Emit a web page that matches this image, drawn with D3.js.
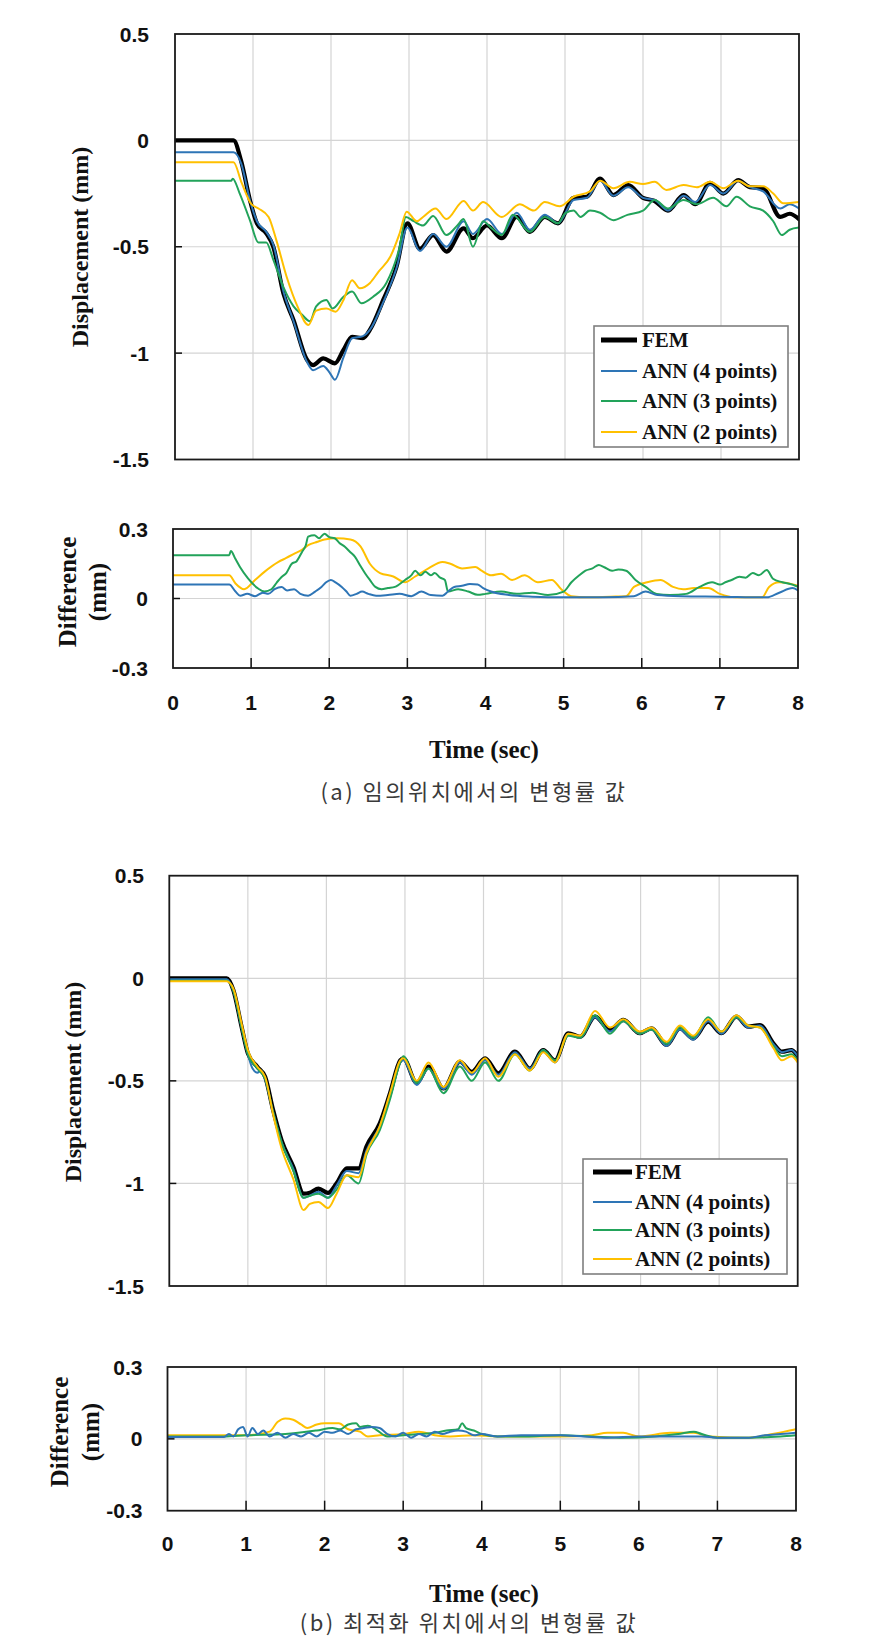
<!DOCTYPE html>
<html><head><meta charset="utf-8">
<script src="https://cdn.jsdelivr.net/npm/d3@7"></script>
<style>body{margin:0;background:#fff}svg{display:block}</style>
</head><body>
<svg id="chart" width="891" height="1649"></svg>
<script>
// ---------- DATA ----------
const timeTicks = [0,1,2,3,4,5,6,7,8];
const dispTicks = [0.5, 0, -0.5, -1, -1.5];
const dispTickLabels = ["0.5","0","-0.5","-1","-1.5"];
const diffTicks = [0.3, 0, -0.3];
const diffTickLabels = ["0.3","0","-0.3"];
const seriesNames = ["FEM","ANN (4 points)","ANN (3 points)","ANN (2 points)"];
const seriesColors = ["#000000","#2e75b6","#22a35a","#ffc000"];
const captions = ["(a) 임의위치에서의 변형률 값","(b) 최적화 위치에서의 변형률 값"];
const yTitleTop = "Displacement (mm)";
const yTitleDiff = ["Difference","(mm)"];
const xTitle = "Time (sec)";

// (a) arbitrary positions : [time, displacement]
const femA = [[0,0],[0.75,0],[0.85,-0.10],[0.96,-0.28],[1.05,-0.39],[1.17,-0.437],[1.26,-0.50],[1.39,-0.72],[1.52,-0.845],[1.69,-1.03],[1.77,-1.056],[1.9,-1.025],[2.05,-1.048],[2.16,-0.985],[2.27,-0.923],[2.41,-0.93],[2.5,-0.89],[2.67,-0.75],[2.84,-0.594],[2.98,-0.39],[3.14,-0.51],[3.31,-0.445],[3.48,-0.523],[3.70,-0.414],[3.82,-0.46],[4.0,-0.40],[4.19,-0.46],[4.38,-0.36],[4.55,-0.43],[4.74,-0.36],[4.91,-0.39],[5.11,-0.27],[5.28,-0.265],[5.45,-0.18],[5.62,-0.257],[5.81,-0.21],[6.0,-0.27],[6.15,-0.285],[6.32,-0.33],[6.52,-0.257],[6.67,-0.30],[6.86,-0.20],[7.03,-0.25],[7.22,-0.187],[7.37,-0.22],[7.54,-0.225],[7.76,-0.36],[7.88,-0.345],[8.0,-0.37]];
const ann4A = [[0,-0.056],[0.75,-0.056],[0.85,-0.11],[0.96,-0.28],[1.05,-0.38],[1.17,-0.43],[1.26,-0.49],[1.39,-0.71],[1.52,-0.85],[1.69,-1.04],[1.77,-1.08],[1.9,-1.06],[1.98,-1.09],[2.05,-1.125],[2.16,-1.02],[2.27,-0.93],[2.41,-0.92],[2.5,-0.89],[2.67,-0.76],[2.84,-0.6],[2.98,-0.41],[3.14,-0.52],[3.31,-0.44],[3.48,-0.5],[3.70,-0.38],[3.82,-0.44],[4.0,-0.37],[4.19,-0.44],[4.38,-0.34],[4.55,-0.42],[4.74,-0.35],[4.91,-0.39],[5.11,-0.28],[5.28,-0.27],[5.45,-0.19],[5.62,-0.26],[5.81,-0.22],[6.0,-0.27],[6.15,-0.28],[6.32,-0.33],[6.52,-0.26],[6.67,-0.29],[6.86,-0.21],[7.03,-0.25],[7.22,-0.19],[7.37,-0.22],[7.54,-0.24],[7.76,-0.32],[7.88,-0.30],[8.0,-0.32]];
const ann3A = [[0,-0.19],[0.72,-0.19],[0.74,-0.18],[0.83,-0.25],[0.96,-0.375],[1.07,-0.48],[1.17,-0.48],[1.26,-0.56],[1.39,-0.69],[1.52,-0.78],[1.63,-0.82],[1.73,-0.85],[1.81,-0.78],[1.94,-0.75],[2.02,-0.79],[2.16,-0.735],[2.27,-0.71],[2.39,-0.766],[2.54,-0.735],[2.71,-0.67],[2.88,-0.5],[2.96,-0.36],[3.06,-0.38],[3.18,-0.40],[3.31,-0.355],[3.48,-0.445],[3.62,-0.40],[3.70,-0.37],[3.82,-0.50],[3.95,-0.38],[4.05,-0.41],[4.19,-0.445],[4.33,-0.35],[4.55,-0.43],[4.74,-0.36],[4.91,-0.39],[5.0,-0.343],[5.11,-0.33],[5.2,-0.36],[5.32,-0.33],[5.45,-0.34],[5.62,-0.375],[5.8,-0.35],[6.0,-0.33],[6.15,-0.28],[6.32,-0.32],[6.52,-0.28],[6.69,-0.30],[6.9,-0.27],[7.07,-0.31],[7.2,-0.265],[7.37,-0.31],[7.54,-0.33],[7.67,-0.38],[7.78,-0.445],[7.88,-0.42],[8.0,-0.41]];
const ann2A = [[0,-0.103],[0.75,-0.103],[0.855,-0.2],[0.98,-0.30],[1.07,-0.32],[1.2,-0.36],[1.30,-0.47],[1.43,-0.64],[1.57,-0.78],[1.71,-0.868],[1.81,-0.80],[1.94,-0.79],[2.06,-0.805],[2.16,-0.75],[2.27,-0.657],[2.37,-0.695],[2.5,-0.67],[2.61,-0.617],[2.76,-0.547],[2.88,-0.437],[2.97,-0.335],[3.1,-0.38],[3.18,-0.36],[3.34,-0.32],[3.48,-0.37],[3.7,-0.285],[3.82,-0.33],[3.95,-0.29],[4.19,-0.36],[4.42,-0.30],[4.6,-0.33],[4.74,-0.29],[4.93,-0.31],[5.11,-0.265],[5.32,-0.24],[5.45,-0.19],[5.62,-0.225],[5.83,-0.195],[6.0,-0.205],[6.15,-0.195],[6.3,-0.233],[6.52,-0.21],[6.69,-0.22],[6.86,-0.195],[7.03,-0.225],[7.22,-0.19],[7.37,-0.216],[7.54,-0.216],[7.67,-0.25],[7.8,-0.296],[8.0,-0.29]];

// (a) differences : [time, |ANN - FEM|]
const diff4A = [[0,0.06],[0.72,0.06],[0.8,0.03],[0.86,0.012],[0.95,0.02],[1.05,0.01],[1.15,0.025],[1.22,0.02],[1.3,0.04],[1.39,0.05],[1.46,0.035],[1.55,0.04],[1.63,0.02],[1.73,0.012],[1.82,0.03],[1.9,0.05],[1.96,0.07],[2.02,0.08],[2.08,0.07],[2.16,0.05],[2.22,0.03],[2.27,0.012],[2.35,0.02],[2.42,0.03],[2.5,0.02],[2.6,0.012],[2.75,0.015],[2.9,0.02],[3.05,0.01],[3.18,0.03],[3.3,0.015],[3.45,0.012],[3.52,0.03],[3.6,0.05],[3.7,0.055],[3.8,0.063],[3.9,0.06],[3.97,0.045],[4.07,0.03],[4.3,0.015],[4.6,0.008],[5.0,0.005],[5.5,0.005],[5.9,0.01],[6.05,0.03],[6.2,0.015],[6.5,0.01],[7.0,0.008],[7.6,0.005],[7.76,0.025],[7.93,0.045],[8.0,0.035]];
const diff3A = [[0,0.187],[0.72,0.187],[0.74,0.205],[0.8,0.17],[0.855,0.137],[0.96,0.087],[1.09,0.043],[1.17,0.03],[1.26,0.04],[1.33,0.07],[1.39,0.093],[1.45,0.11],[1.52,0.15],[1.58,0.16],[1.65,0.2],[1.7,0.23],[1.73,0.267],[1.81,0.273],[1.87,0.26],[1.94,0.28],[2.0,0.265],[2.07,0.26],[2.13,0.24],[2.2,0.223],[2.27,0.2],[2.33,0.18],[2.4,0.14],[2.46,0.108],[2.52,0.08],[2.59,0.05],[2.67,0.04],[2.75,0.045],[2.84,0.05],[2.97,0.08],[3.05,0.1],[3.1,0.12],[3.17,0.1],[3.23,0.115],[3.3,0.1],[3.35,0.11],[3.42,0.09],[3.48,0.08],[3.52,0.03],[3.65,0.04],[3.78,0.03],[3.9,0.016],[4.0,0.02],[4.2,0.03],[4.4,0.02],[4.6,0.025],[4.8,0.015],[5.0,0.03],[5.1,0.07],[5.2,0.1],[5.28,0.12],[5.37,0.13],[5.45,0.145],[5.52,0.135],[5.62,0.12],[5.7,0.125],[5.8,0.12],[5.92,0.08],[6.05,0.05],[6.19,0.02],[6.36,0.015],[6.57,0.02],[6.74,0.05],[6.9,0.07],[7.0,0.06],[7.07,0.07],[7.15,0.08],[7.25,0.094],[7.33,0.09],[7.42,0.11],[7.5,0.1],[7.6,0.123],[7.68,0.085],[7.8,0.07],[7.93,0.06],[8.0,0.05]];
const diff2A = [[0,0.10],[0.72,0.10],[0.8,0.065],[0.91,0.04],[1.05,0.08],[1.17,0.115],[1.35,0.158],[1.45,0.175],[1.56,0.195],[1.65,0.21],[1.73,0.23],[1.85,0.245],[1.94,0.255],[2.1,0.26],[2.27,0.255],[2.4,0.225],[2.52,0.15],[2.65,0.11],[2.82,0.095],[2.97,0.07],[3.1,0.095],[3.27,0.13],[3.45,0.158],[3.55,0.15],[3.7,0.13],[3.87,0.136],[3.95,0.12],[4.07,0.1],[4.2,0.107],[4.34,0.08],[4.5,0.1],[4.67,0.07],[4.85,0.08],[4.97,0.04],[5.1,0.01],[5.3,0.005],[5.6,0.008],[5.8,0.01],[5.9,0.05],[6.07,0.07],[6.24,0.08],[6.4,0.05],[6.53,0.04],[6.67,0.045],[6.85,0.045],[7.0,0.02],[7.2,0.005],[7.54,0.005],[7.63,0.05],[7.76,0.07],[8.0,0.055]];

// (b) optimized positions : [time, displacement]
const femB = [[0,0],[0.73,0],[0.815,-0.057],[0.92,-0.236],[1.0,-0.366],[1.12,-0.431],[1.22,-0.48],[1.32,-0.64],[1.43,-0.79],[1.58,-0.92],[1.71,-1.05],[1.79,-1.045],[1.9,-1.025],[2.02,-1.046],[2.13,-1.0],[2.26,-0.927],[2.41,-0.927],[2.51,-0.82],[2.68,-0.707],[2.81,-0.56],[2.94,-0.40],[2.98,-0.39],[3.15,-0.51],[3.30,-0.43],[3.49,-0.537],[3.7,-0.407],[3.85,-0.456],[4.02,-0.39],[4.19,-0.463],[4.4,-0.358],[4.59,-0.44],[4.76,-0.35],[4.91,-0.40],[5.08,-0.268],[5.23,-0.285],[5.42,-0.187],[5.61,-0.252],[5.78,-0.203],[5.99,-0.268],[6.14,-0.244],[6.33,-0.325],[6.5,-0.244],[6.67,-0.293],[6.86,-0.212],[7.03,-0.268],[7.22,-0.187],[7.37,-0.236],[7.52,-0.228],[7.69,-0.317],[7.8,-0.358],[7.92,-0.35],[8.0,-0.38]];
const ann4B = [[0,-0.005],[0.73,-0.005],[0.815,-0.06],[0.92,-0.24],[1.0,-0.37],[1.06,-0.44],[1.12,-0.46],[1.17,-0.45],[1.22,-0.49],[1.32,-0.65],[1.43,-0.80],[1.58,-0.93],[1.71,-1.07],[1.79,-1.06],[1.9,-1.04],[2.02,-1.07],[2.13,-1.01],[2.26,-0.94],[2.41,-0.95],[2.51,-0.84],[2.68,-0.72],[2.81,-0.57],[2.94,-0.41],[2.98,-0.40],[3.15,-0.52],[3.30,-0.44],[3.49,-0.54],[3.7,-0.41],[3.85,-0.47],[4.02,-0.40],[4.19,-0.47],[4.4,-0.36],[4.59,-0.44],[4.76,-0.35],[4.91,-0.41],[5.08,-0.27],[5.23,-0.29],[5.42,-0.19],[5.61,-0.26],[5.78,-0.21],[5.99,-0.27],[6.14,-0.25],[6.33,-0.33],[6.5,-0.25],[6.67,-0.30],[6.86,-0.21],[7.03,-0.27],[7.22,-0.19],[7.37,-0.24],[7.52,-0.23],[7.69,-0.32],[7.8,-0.36],[7.92,-0.35],[8.0,-0.38]];
const ann3B = [[0,-0.012],[0.73,-0.012],[0.815,-0.06],[0.92,-0.24],[1.0,-0.37],[1.12,-0.44],[1.22,-0.49],[1.32,-0.65],[1.43,-0.80],[1.58,-0.94],[1.71,-1.07],[1.79,-1.06],[1.9,-1.05],[2.02,-1.07],[2.13,-1.03],[2.26,-0.96],[2.41,-1.0],[2.51,-0.86],[2.68,-0.74],[2.81,-0.59],[2.94,-0.41],[2.98,-0.38],[3.15,-0.51],[3.30,-0.44],[3.49,-0.56],[3.7,-0.43],[3.85,-0.50],[4.02,-0.41],[4.19,-0.50],[4.4,-0.37],[4.59,-0.45],[4.76,-0.35],[4.91,-0.40],[5.08,-0.28],[5.23,-0.29],[5.42,-0.18],[5.61,-0.27],[5.78,-0.21],[5.99,-0.27],[6.14,-0.25],[6.33,-0.32],[6.5,-0.24],[6.67,-0.29],[6.86,-0.19],[7.03,-0.26],[7.22,-0.19],[7.37,-0.23],[7.52,-0.24],[7.69,-0.33],[7.8,-0.38],[7.92,-0.37],[8.0,-0.40]];
const ann2B = [[0,-0.015],[0.73,-0.015],[0.815,-0.05],[0.92,-0.22],[1.0,-0.35],[1.12,-0.43],[1.22,-0.48],[1.32,-0.66],[1.43,-0.83],[1.58,-0.98],[1.71,-1.13],[1.79,-1.10],[1.9,-1.09],[2.02,-1.12],[2.13,-1.05],[2.26,-0.96],[2.41,-0.97],[2.51,-0.85],[2.68,-0.72],[2.81,-0.56],[2.94,-0.40],[2.98,-0.39],[3.15,-0.50],[3.30,-0.41],[3.49,-0.53],[3.7,-0.40],[3.85,-0.46],[4.02,-0.39],[4.19,-0.48],[4.4,-0.37],[4.59,-0.45],[4.76,-0.36],[4.91,-0.41],[5.08,-0.27],[5.23,-0.28],[5.42,-0.16],[5.61,-0.24],[5.78,-0.20],[5.99,-0.26],[6.14,-0.24],[6.33,-0.31],[6.5,-0.23],[6.67,-0.28],[6.86,-0.20],[7.03,-0.26],[7.22,-0.18],[7.37,-0.23],[7.52,-0.24],[7.69,-0.34],[7.8,-0.40],[7.92,-0.38],[8.0,-0.41]];

// (b) differences
const diff4B = [[0,0.008],[0.72,0.008],[0.78,0.02],[0.84,0.01],[0.9,0.04],[0.96,0.05],[1.02,0.01],[1.08,0.045],[1.15,0.02],[1.22,0.035],[1.3,0.01],[1.4,0.025],[1.5,0.005],[1.6,0.02],[1.7,0.01],[1.8,0.025],[1.9,0.01],[2.0,0.03],[2.1,0.025],[2.2,0.035],[2.3,0.02],[2.4,0.04],[2.5,0.045],[2.6,0.05],[2.7,0.045],[2.8,0.02],[2.9,0.01],[3.0,0.025],[3.1,0.005],[3.2,0.02],[3.3,0.01],[3.4,0.03],[3.5,0.02],[3.6,0.03],[3.7,0.035],[3.8,0.03],[3.9,0.015],[4.0,0.02],[4.2,0.01],[4.5,0.015],[5.0,0.015],[5.3,0.01],[5.6,0.005],[6.0,0.01],[6.4,0.01],[6.8,0.01],[7.0,0.005],[7.4,0.005],[7.6,0.015],[7.8,0.02],[8.0,0.025]];
const diff3B = [[0,0.01],[0.72,0.01],[1.0,0.015],[1.5,0.02],[1.9,0.035],[2.1,0.045],[2.2,0.04],[2.3,0.06],[2.4,0.065],[2.45,0.05],[2.55,0.055],[2.65,0.04],[2.8,0.01],[3.0,0.015],[3.2,0.02],[3.4,0.025],[3.55,0.035],[3.7,0.04],[3.75,0.065],[3.8,0.045],[3.9,0.035],[4.0,0.02],[4.2,0.01],[4.6,0.01],[5.0,0.015],[5.4,0.01],[5.8,0.005],[6.2,0.01],[6.5,0.02],[6.7,0.03],[6.8,0.02],[7.0,0.005],[7.4,0.005],[7.8,0.01],[8.0,0.015]];
const diff2B = [[0,0.015],[0.72,0.015],[1.0,0.015],[1.3,0.03],[1.4,0.07],[1.5,0.085],[1.6,0.08],[1.7,0.06],[1.78,0.045],[1.9,0.06],[2.0,0.065],[2.18,0.065],[2.3,0.04],[2.45,0.03],[2.55,0.01],[2.7,0.015],[3.0,0.02],[3.2,0.03],[3.4,0.015],[3.6,0.01],[3.9,0.015],[4.2,0.01],[5.0,0.01],[5.4,0.015],[5.6,0.025],[5.8,0.025],[6.0,0.01],[6.4,0.025],[6.7,0.025],[6.9,0.01],[7.4,0.005],[7.7,0.02],[8.0,0.04]];

// ---------- LAYOUT ----------
const svg = d3.select("#chart");
svg.append("rect").attr("width",891).attr("height",1649).attr("fill","#fff");

const SANS = "'Liberation Sans', Arial, sans-serif";
const SERIF = "'Liberation Serif', 'Times New Roman', serif";
let clipId = 0;

function drawPanel(L, domain, ticks, tickLabels, series, widths, order, isDiff) {
  const g = svg.append("g");
  const x = d3.scaleLinear().domain([0, 8]).range([L.x0, L.x1]);
  const y = d3.scaleLinear().domain(domain).range([L.y1, L.y0]);
  g.selectAll(".vg").data(timeTicks.filter(t => t > 0 && t < 8)).join("line")
    .attr("x1", d => x(d)).attr("x2", d => x(d)).attr("y1", L.y0).attr("y2", L.y1)
    .attr("stroke", "#d4d4d4").attr("stroke-width", 1.2);
  g.selectAll(".hg").data(ticks.filter(t => t > domain[0] && t < domain[1])).join("line")
    .attr("x1", L.x0).attr("x2", L.x1).attr("y1", d => y(d)).attr("y2", d => y(d))
    .attr("stroke", "#d4d4d4").attr("stroke-width", 1.2);
  g.selectAll(".yt").data(ticks.filter(t => t > domain[0] && t < domain[1])).join("line")
    .attr("x1", L.x0).attr("x2", L.x0 + 7).attr("y1", d => y(d)).attr("y2", d => y(d))
    .attr("stroke", "#111").attr("stroke-width", 1.5);
  if (isDiff) {
    g.selectAll(".xt").data(timeTicks.filter(t => t > 0 && t < 8)).join("line")
      .attr("x1", d => x(d)).attr("x2", d => x(d)).attr("y1", L.y1).attr("y2", L.y1 - 10)
      .attr("stroke", "#111").attr("stroke-width", 1.5);
  }
  const id = "clip" + (clipId++);
  svg.append("clipPath").attr("id", id).append("rect")
    .attr("x", L.x0).attr("y", L.y0 - 2).attr("width", L.x1 - L.x0).attr("height", L.y1 - L.y0 + 4);
  const line = d3.line().x(d => x(d[0])).y(d => y(d[1])).curve(d3.curveMonotoneX);
  const lg = g.append("g").attr("clip-path", `url(#${id})`);
  order.forEach(i => {
    lg.append("path").datum(series[i]).attr("d", line).attr("fill", "none")
      .attr("stroke", seriesColors[i]).attr("stroke-width", widths[i])
      .attr("stroke-linejoin", "round").attr("stroke-linecap", "round");
  });
  g.append("rect").attr("x", L.x0).attr("y", L.y0).attr("width", L.x1 - L.x0).attr("height", L.y1 - L.y0)
    .attr("fill", "none").attr("stroke", "#1a1a1a").attr("stroke-width", 1.8);
  g.selectAll(".yl").data(ticks).join("text")
    .attr("x", L.labelX).attr("y", d => y(d)).attr("text-anchor", "end")
    .attr("dominant-baseline", "central").attr("font-family", SANS).attr("font-weight", "bold")
    .attr("font-size", 21).attr("fill", "#111").text((d, i) => tickLabels[i]);
  return {x, y};
}

function drawLegend(B) {
  const g = svg.append("g");
  g.append("rect").attr("x", B.x0).attr("y", B.y0).attr("width", B.x1 - B.x0).attr("height", B.y1 - B.y0)
    .attr("fill", "#fff").attr("stroke", "#7f7f7f").attr("stroke-width", 1.6);
  seriesNames.forEach((name, i) => {
    g.append("line").attr("x1", B.lx0).attr("x2", B.lx1).attr("y1", B.rows[i]).attr("y2", B.rows[i])
      .attr("stroke", seriesColors[i]).attr("stroke-width", i === 0 ? 5 : 1.8);
    g.append("text").attr("x", B.tx).attr("y", B.rows[i]).attr("dominant-baseline", "central")
      .attr("font-family", SERIF).attr("font-weight", "bold").attr("font-size", 21)
      .attr("fill", "#111").text(name);
  });
}

function rotText(x, y, s, size) {
  svg.append("text").attr("transform", `translate(${x},${y}) rotate(-90)`)
    .attr("text-anchor", "middle").attr("dominant-baseline", "central")
    .attr("font-family", SERIF).attr("font-weight", "bold").attr("font-size", size)
    .attr("fill", "#111").text(s);
}

function drawFigure(F) {
  drawPanel(F.top, [-1.5, 0.5], dispTicks, dispTickLabels, F.topSeries, [4.2, 2, 2, 2], [0, 1, 2, 3], false);
  drawLegend(F.legend);
  rotText(F.topTitleX, F.topTitleY, yTitleTop, 24);
  const d = drawPanel(F.diff, [-0.3, 0.3], diffTicks, diffTickLabels, F.diffSeries, [0, 2, 2, 2], [3, 2, 1], true);
  rotText(F.diffTitleX[0], F.diffTitleY, yTitleDiff[0], 25);
  rotText(F.diffTitleX[1], F.diffTitleY, yTitleDiff[1], 25);
  svg.append("g").selectAll("text").data(timeTicks).join("text")
    .attr("x", t => d.x(t)).attr("y", F.xLabelY).attr("text-anchor", "middle")
    .attr("dominant-baseline", "central").attr("font-family", SANS).attr("font-weight", "bold")
    .attr("font-size", 21).attr("fill", "#111").text(t => String(t));
  svg.append("text").attr("x", F.xTitle[0]).attr("y", F.xTitle[1]).attr("text-anchor", "middle")
    .attr("dominant-baseline", "central").attr("font-family", SERIF).attr("font-weight", "bold")
    .attr("font-size", 25).attr("fill", "#111").text(xTitle);
  svg.append("text").attr("x", F.caption[0]).attr("y", F.caption[1]).attr("text-anchor", "middle")
    .attr("dominant-baseline", "central").attr("font-family", "'Noto Sans CJK KR', sans-serif")
    .attr("font-size", 22).attr("letter-spacing", 2.5).attr("fill", "#3a3a3a").text(F.captionText);
}

drawFigure({
  top: {x0: 175, x1: 799, y0: 34, y1: 459.5, labelX: 149},
  topSeries: [femA, ann4A, ann3A, ann2A],
  legend: {x0: 594, x1: 788, y0: 326, y1: 447, rows: [340, 371, 401, 432], lx0: 601, lx1: 637, tx: 642},
  topTitleX: 80, topTitleY: 247,
  diff: {x0: 173, x1: 798, y0: 529, y1: 668, labelX: 148},
  diffSeries: [null, diff4A, diff3A, diff2A],
  diffTitleX: [67, 97], diffTitleY: 592,
  xLabelY: 702, xTitle: [484, 749], caption: [474, 790], captionText: captions[0]
});

drawFigure({
  top: {x0: 169.3, x1: 797.7, y0: 875.7, y1: 1286, labelX: 144},
  topSeries: [femB, ann4B, ann3B, ann2B],
  legend: {x0: 583, x1: 787, y0: 1159, y1: 1274, rows: [1172, 1202, 1230, 1259], lx0: 593, lx1: 632, tx: 635},
  topTitleX: 73, topTitleY: 1082,
  diff: {x0: 167.5, x1: 796, y0: 1367, y1: 1510.7, labelX: 142.5},
  diffSeries: [null, diff4B, diff3B, diff2B],
  diffTitleX: [59, 90.5], diffTitleY: 1432,
  xLabelY: 1543, xTitle: [484, 1593], caption: [469, 1621], captionText: captions[1]
});
</script>
</body></html>
